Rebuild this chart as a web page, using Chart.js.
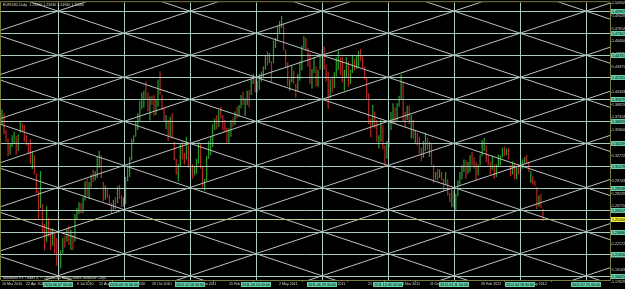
<!DOCTYPE html>
<html>
<head>
<meta charset="utf-8">
<script src="https://cdn.jsdelivr.net/npm/chart.js@4.4.0/dist/chart.umd.min.js"></script>
<style>
  html, body { margin: 0; padding: 0; background: #000; }
  canvas { display: block; }
</style>
</head>
<body>
<canvas id="chart" width="625" height="289"></canvas>
<script>
// --- data (EURUSD daily, 2 days per bar) ---
const chartTitle = 'EURUSD,Daily  1.25260 1.25630 1.24960 1.25160';
const footerText = 'Interbank FX Trader 4, \u00a9 2001-2010 MetaQuotes Software Corp.';
const lastClose = 1.25160;

const lows = [
  1.3650,1.3530, 1.3440,1.3267,1.3290, 1.3380,1.3420, 1.3290,1.3330, 1.3550,1.3560,1.3440,
  1.3400,1.3300, 1.3180,1.3115, 1.3050,1.2830,1.2523, 1.2650,1.2350, 1.2143,1.2250,
  1.2310,1.2150,1.2200, 1.2110,1.1960, 1.1876,1.1930, 1.2110,1.2180,1.2250, 1.2210,1.2150,
  1.2150,1.2250, 1.2510,1.2580,1.2590, 1.2590,1.2740, 1.2800,1.2760, 1.2900,1.2960,1.2980,
  1.3010,1.3130, 1.3010,1.2730, 1.2750,1.2770,1.2680, 1.2588,1.2630, 1.2640,1.2710,
  1.2760,1.2660,1.2670, 1.2700,1.2970, 1.3020,1.3220, 1.3430,1.3500,1.3580, 1.3690,1.3830,
  1.3850,1.3940, 1.3800,1.3699,1.3880, 1.3750,1.3760, 1.3860,1.4000, 1.3820,1.3680,1.3590,
  1.3450,1.3510, 1.3480,1.3220, 1.3050,1.2968,1.3140, 1.3230,1.3170, 1.3230,1.3130,
  1.3070,1.3000,1.3040, 1.3060,1.3180, 1.3120,1.2900, 1.2860,1.2970,1.3240, 1.3280,1.3380,
  1.3580,1.3590, 1.3620,1.3720,1.3580, 1.3560,1.3430, 1.3430,1.3500, 1.3620,1.3640,1.3720,
  1.3740,1.3840, 1.3880,1.3750, 1.3880,1.3850,1.4000, 1.4130,1.4030, 1.4030,1.4060,
  1.4160,1.4200,1.4300, 1.4350,1.4380, 1.4150,1.4380, 1.4560,1.4640,1.4740, 1.4800,1.4530,
  1.4320,1.4110, 1.4050,1.4150,1.4130, 1.3968,1.4050, 1.4170,1.4290, 1.4560,1.4520,1.4340,
  1.4130,1.4075, 1.4260,1.4100, 1.4100,1.4300,1.4440, 1.4300,1.4160, 1.3837,1.3960,
  1.4030,1.4080,1.4220, 1.4300,1.4240, 1.4150,1.4050, 1.4200,1.4100,1.4130, 1.4260,1.4290,
  1.4310,1.4330, 1.4400,1.4320,1.4180, 1.3940,1.3650, 1.3495,1.3620, 1.3600,1.3440,1.3360,
  1.3440,1.3350, 1.3145,1.3240, 1.3370,1.3580,1.3660, 1.3650,1.3680, 1.3860,1.3950,
  1.3690,1.3610,1.3700, 1.3650,1.3480, 1.3480,1.3420, 1.3400,1.3300,1.3210, 1.3250,1.3330,
  1.3350,1.3260, 1.3160,1.2945,1.2990, 1.2980,1.3010, 1.2980,1.2858, 1.2930,1.2800,1.2720,
  1.2660,1.2660, 1.2624,1.2790, 1.2930,1.2990,1.3080, 1.3000,1.3060, 1.3080,1.3160,
  1.3120,1.2980,1.3040, 1.3160,1.3270, 1.3330,1.3200, 1.3160,1.3050,1.3100, 1.3000,1.3020,
  1.3150,1.3160, 1.3250,1.3270,1.3280, 1.3230,1.3030, 1.3050,1.2995, 1.2995,1.3050,1.3080,
  1.3120,1.3180, 1.3180,1.3080, 1.2950,1.2930,1.2910, 1.2640,1.2670, 1.2650,1.2496
];
const highs = [
  1.3827,1.3780, 1.3580,1.3480,1.3420, 1.3520,1.3560, 1.3510,1.3530, 1.3690,1.3660,1.3640,
  1.3520,1.3430, 1.3470,1.3330, 1.3280,1.3060,1.2860, 1.3093,1.2700, 1.2460,1.2673,
  1.2530,1.2400,1.2410, 1.2360,1.2290, 1.2010,1.2150, 1.2300,1.2320,1.2400, 1.2440,1.2390,
  1.2330,1.2580, 1.2650,1.2720,1.2710, 1.2780,1.2970, 1.3000,1.2960, 1.3050,1.3110,1.3090,
  1.3260,1.3334, 1.3280,1.2960, 1.2920,1.2880,1.2810, 1.2710,1.2750, 1.2780,1.2910,
  1.2930,1.2800,1.2780, 1.3020,1.3160, 1.3260,1.3480, 1.3520,1.3680,1.3780, 1.3930,1.4030,
  1.4050,1.4161, 1.4030,1.3980,1.3990, 1.4000,1.3950, 1.4180,1.4282, 1.4000,1.3850,1.3760,
  1.3700,1.3740, 1.3780,1.3440, 1.3240,1.3180,1.3420, 1.3440,1.3310, 1.3500,1.3400,
  1.3240,1.3170,1.3140, 1.3240,1.3440, 1.3430,1.3150, 1.3000,1.3270,1.3450, 1.3500,1.3650,
  1.3720,1.3760, 1.3820,1.3860,1.3760, 1.3700,1.3610, 1.3600,1.3700, 1.3730,1.3800,1.3860,
  1.3880,1.4000, 1.4040,1.3960, 1.4050,1.4060,1.4190, 1.4250,1.4200, 1.4170,1.4250,
  1.4280,1.4340,1.4480, 1.4520,1.4500, 1.4400,1.4650, 1.4680,1.4820,1.4880, 1.4940,1.4850,
  1.4540,1.4390, 1.4190,1.4350,1.4290, 1.4130,1.4250, 1.4400,1.4590, 1.4700,1.4680,1.4560,
  1.4500,1.4310, 1.4450,1.4340, 1.4300,1.4470,1.4540, 1.4580,1.4360, 1.4280,1.4190,
  1.4220,1.4270,1.4450, 1.4530,1.4450, 1.4450,1.4300, 1.4450,1.4400,1.4300, 1.4480,1.4430,
  1.4470,1.4520, 1.4548,1.4460,1.4340, 1.4210,1.4020, 1.3720,1.3880, 1.3800,1.3700,1.3520,
  1.3700,1.3640, 1.3400,1.3450, 1.3690,1.3800,1.3900, 1.3850,1.3900, 1.3990,1.4247,
  1.4160,1.3800,1.3870, 1.3870,1.3760, 1.3700,1.3580, 1.3550,1.3500,1.3370, 1.3450,1.3550,
  1.3490,1.3440, 1.3430,1.3170,1.3080, 1.3120,1.3110, 1.3080,1.3000, 1.3080,1.2990,1.2830,
  1.2880,1.2850, 1.2820,1.2980, 1.3080,1.3160,1.3230, 1.3220,1.3200, 1.3280,1.3320,
  1.3260,1.3200,1.3170, 1.3290,1.3460, 1.3487,1.3400, 1.3280,1.3200,1.3270, 1.3170,1.3170,
  1.3290,1.3280, 1.3370,1.3385,1.3360, 1.3360,1.3160, 1.3210,1.3180, 1.3150,1.3170,1.3200,
  1.3230,1.3260, 1.3283,1.3200, 1.3090,1.3030,1.2980, 1.2900,1.2800, 1.2820,1.2640
];
// u = bull bar, d = bear bar
const dirs = ('ud ddu uu du udd dd du ddd ud du ddu dd du udu du du uud uu du udu ' +
  'uu dd udd du du ddu uu uu uuu uu ud dud du ud ddu du dd duu dd ud ' +
  'ddu uu dd uuu uu ud udd dd uu dud uu du udu ud du uuu du du uuu ud ' +
  'dd uud du uu udd du ud uuu dd du duu ud du udu ud uu ddd dd du ddu ' +
  'ud du uuu du uu ddu du du ddd uu du ddu du dd udd ud uu uuu du ud ' +
  'ddu uu ud ddu du uu udu dd ud udu uu dd udd du dd').replace(/ /g, '');

const priceTicks = [1.50942, 1.49428, 1.47914, 1.46400, 1.44885, 1.43371, 1.41857, 1.40343,
  1.38829, 1.37314, 1.35800, 1.34286, 1.32772, 1.31257, 1.29743, 1.28229, 1.26715, 1.25200,
  1.23686, 1.22172, 1.20658, 1.19143, 1.17629];

const gannLevels = [1.49992, 1.47362, 1.44731, 1.42101, 1.39470, 1.36839, 1.34209,
  1.31578, 1.28948, 1.26317, 1.23686, 1.21056, 1.18425];
const gannSlots = [27.63, 60.21, 92.79, 125.37, 157.94, 190.52, 223.10, 255.68, 288.26];
const gannDates = ['2010.06.07 00:00', '2010.09.10 00:00', '2010.12.16 00:00', '2011.03.24 00:00',
  '2011.06.29 00:00', '2011.10.05 00:00', '2012.01.11 00:00', '2012.04.18 00:00', '2012.07.25 00:00'];

const dateTickSlots = [0.0, 11.8, 37.0, 47.9, 60.7, 74.0, 97.2, 112.0, 136.7, 160.4, 180.6, 197.4, 211.2, 236.4, 259.6];
const dateTickLabels = ['16 Mar 2010', '22 Apr 2010', '6 Jul 2010', '12 Aug 2010', '17 Sep 2010',
  '26 Oct 2010', '3 Jan 2011', '15 Feb 2011', '2 May 2011', '18 Jul 2011', '21 Aug 2011',
  '3 Nov 2011', '11 Dec 2011', '26 Feb 2012', '2 May 2012'];

// --- look ---
const upColor = '#2a9c2a';
const downColor = '#b82626';
const frameColor = '#7a7a3a';
const textColor = '#dcdcc0';
const gridColor = '#a8ccc4';
const diagColor = '#bcc2c2';
const tagColor = '#62cfaa';
const bidColor = '#c8c88a';
const tinyFont = { family: 'Liberation Sans', size: 3.6 };
const fontStr = '3.6px "Liberation Sans"';

const mtOverlay = {
  id: 'mtOverlay',
  beforeDraw(chart) {
    const ctx = chart.ctx;
    ctx.save();
    ctx.fillStyle = '#000';
    ctx.fillRect(0, 0, chart.width, chart.height);
    ctx.restore();
  },
  afterDatasetsDraw(chart) {
    const { ctx, chartArea: a } = chart;
    const xs = chart.scales.x, ys = chart.scales.y;
    ctx.save();
    ctx.beginPath();
    ctx.rect(a.left, a.top, a.right - a.left, a.bottom - a.top);
    ctx.clip();
    ctx.lineWidth = 1;

    // horizontal and vertical grid of the Gann object
    ctx.strokeStyle = gridColor;
    gannLevels.forEach(v => {
      const y = Math.round(ys.getPixelForValue(v)) + 0.5;
      ctx.beginPath(); ctx.moveTo(a.left, y); ctx.lineTo(a.right, y); ctx.stroke();
    });
    gannSlots.forEach(v => {
      const x = Math.round(xs.getPixelForValue(v)) + 0.5;
      ctx.beginPath(); ctx.moveTo(x, a.top); ctx.lineTo(x, a.bottom); ctx.stroke();
    });

    // diagonals through every other node
    const x0 = xs.getPixelForValue(gannSlots[0]);
    const cw = xs.getPixelForValue(gannSlots[1]) - x0;
    const y0 = ys.getPixelForValue(gannLevels[0]);
    const ch = ys.getPixelForValue(gannLevels[1]) - y0;
    const slope = ch / cw;
    ctx.strokeStyle = diagColor;
    for (let k = -30; k <= 30; k++) {
      const yb = y0 + 2 * k * ch;
      ctx.beginPath();
      ctx.moveTo(a.left, yb + (a.left - x0) * slope);
      ctx.lineTo(a.right, yb + (a.right - x0) * slope);
      ctx.stroke();
      ctx.beginPath();
      ctx.moveTo(a.left, yb - (a.left - x0) * slope);
      ctx.lineTo(a.right, yb - (a.right - x0) * slope);
      ctx.stroke();
    }

    // bid line
    const yb = Math.round(ys.getPixelForValue(lastClose)) + 0.5;
    ctx.strokeStyle = bidColor;
    ctx.beginPath(); ctx.moveTo(a.left, yb); ctx.lineTo(a.right, yb); ctx.stroke();
    ctx.restore();
  },
  afterDraw(chart) {
    const { ctx, chartArea: a } = chart;
    const xs = chart.scales.x, ys = chart.scales.y;
    ctx.save();
    // frame top / left
    ctx.strokeStyle = frameColor;
    ctx.lineWidth = 1;
    ctx.beginPath();
    ctx.moveTo(a.left - 0.5, a.bottom); ctx.lineTo(a.left - 0.5, a.top - 0.5); ctx.lineTo(a.right, a.top - 0.5);
    ctx.stroke();

    ctx.font = fontStr;
    ctx.textBaseline = 'middle';

    // price tags of the Gann levels
    gannLevels.forEach(v => {
      const y = Math.round(ys.getPixelForValue(v));
      ctx.fillStyle = tagColor;
      ctx.fillRect(a.right + 1, y - 2, chart.width - a.right - 1, 5);
      ctx.fillStyle = '#000';
      ctx.textAlign = 'left';
      ctx.fillText(v.toFixed(5), a.right + 2, y + 0.5);
    });
    // bid tag
    const yb = Math.round(ys.getPixelForValue(lastClose));
    ctx.fillStyle = '#f0ec3c';
    ctx.fillRect(a.right + 1, yb - 2, chart.width - a.right - 1, 5);
    ctx.fillStyle = '#000';
    ctx.fillText(lastClose.toFixed(5), a.right + 2, yb + 0.5);

    // time tags of the Gann verticals
    ctx.textAlign = 'center';
    gannSlots.forEach((v, i) => {
      const x = Math.round(xs.getPixelForValue(v));
      ctx.fillStyle = tagColor;
      ctx.fillRect(x - 15, a.bottom + 2, 30, 5);
      ctx.fillStyle = '#000';
      ctx.fillText(gannDates[i], x, a.bottom + 4.5);
    });

    // header and footer
    ctx.textAlign = 'left';
    ctx.fillStyle = textColor;
    ctx.fillText(chartTitle, 3, 5);
    ctx.fillText(footerText, 3, a.bottom - 2.5);
    ctx.restore();
  }
};

new Chart(document.getElementById('chart'), {
  type: 'bar',
  data: {
    datasets: [{
      data: lows.map((lo, i) => ({ x: i, y: [lo, highs[i]] })),
      backgroundColor: dirs.split('').map(d => d === 'u' ? upColor : downColor),
      borderWidth: 0,
      barPercentage: 0.6,
      categoryPercentage: 1
    }]
  },
  options: {
    responsive: false,
    animation: false,
    events: [],
    layout: { padding: { left: 1, top: 1, right: 0, bottom: 0 } },
    plugins: { legend: { display: false }, tooltip: { enabled: false } },
    scales: {
      x: {
        type: 'linear',
        min: -0.5,
        max: 300.1,
        offset: false,
        afterBuildTicks: s => { s.ticks = dateTickSlots.map(v => ({ value: v })); },
        afterFit: s => { s.height = 9; },
        grid: { drawOnChartArea: false, drawTicks: true, tickLength: 2, color: frameColor },
        border: { display: true, color: frameColor },
        ticks: {
          autoSkip: false, maxRotation: 0, minRotation: 0, align: 'start', padding: 0,
          color: textColor, font: tinyFont,
          callback: (v, i) => dateTickLabels[i]
        }
      },
      y: {
        type: 'linear',
        position: 'right',
        min: 1.17926,
        max: 1.51061,
        afterBuildTicks: s => { s.ticks = priceTicks.map(v => ({ value: v })); },
        afterFit: s => { s.width = 15; },
        grid: { drawOnChartArea: false, drawTicks: true, tickLength: 2, color: frameColor },
        border: { display: true, color: frameColor },
        ticks: {
          autoSkip: false, padding: 0, color: textColor, font: tinyFont,
          callback: v => v.toFixed(5)
        }
      }
    }
  },
  plugins: [mtOverlay]
});
</script>
</body>
</html>
